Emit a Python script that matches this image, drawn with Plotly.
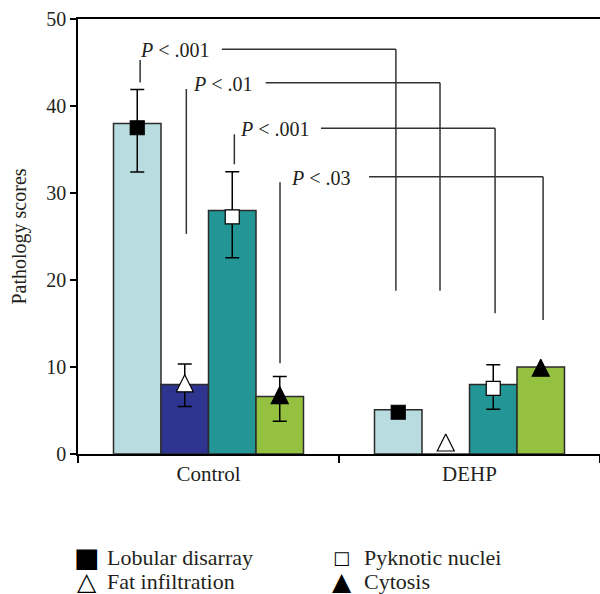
import plotly.graph_objects as go

# ---------------- data ----------------
groups = ["Control", "DEHP"]
group_pos = [0, 1]
series_names = ["Lobular disarray", "Fat infiltration", "Pyknotic nuclei", "Cytosis"]

lobular_bar = [38.0, 5.1]
fat_bar = [8.0, 0.0]
pyknotic_bar = [28.0, 8.0]
cytosis_bar = [6.6, 10.0]

lobular_mark = [37.5, 4.8]
fat_mark = [9.1, 2.3]
pyknotic_mark = [27.25, 7.55]
cytosis_mark = [7.75, 10.9]

lobular_err_plus = [4.4, None]
lobular_err_minus = [5.1, None]
fat_err_plus = [1.25, None]
fat_err_minus = [3.65, None]
pyknotic_err_plus = [5.2, 2.7]
pyknotic_err_minus = [4.7, 2.4]
cytosis_err_plus = [1.15, None]
cytosis_err_minus = [4.0, None]

p_labels = ["P < .001", "P < .01", "P < .001", "P < .03"]

# ---------------- style ----------------
FONT = "Liberation Serif"
TXT = "#231f20"
EDGE = "#2b2b2b"
BARGAP = 0.272
colors = ["#b8dce0", "#2e3591", "#229594", "#94c13f"]
symbols = ["square", "arrow-up", "square", "arrow-up"]
sym_fill = ["black", "white", "white", "black"]
sym_size = [14, 17, 14, 17]

bars = [lobular_bar, fat_bar, pyknotic_bar, cytosis_bar]
marks = [lobular_mark, fat_mark, pyknotic_mark, cytosis_mark]
eplus = [lobular_err_plus, fat_err_plus, pyknotic_err_plus, cytosis_err_plus]
eminus = [lobular_err_minus, fat_err_minus, pyknotic_err_minus, cytosis_err_minus]

fig = go.Figure()
for i, name in enumerate(series_names):
    fig.add_trace(go.Bar(
        x=group_pos, y=bars[i], name=name, showlegend=False,
        marker=dict(color=colors[i], line=dict(color=EDGE, width=1.5)),
        offsetgroup=str(i), hoverinfo="skip",
    ))
# error bars (only where a value exists)
for i, name in enumerate(series_names):
    y_err = [m if e is not None else None for m, e in zip(marks[i], eplus[i])]
    fig.add_trace(go.Scatter(
        x=group_pos, y=y_err, name=name + " SD", mode="markers", showlegend=False,
        offsetgroup=str(i), marker=dict(size=1, color="rgba(0,0,0,0)"),
        error_y=dict(type="data", symmetric=False,
                     array=[e if e is not None else 0 for e in eplus[i]],
                     arrayminus=[e if e is not None else 0 for e in eminus[i]],
                     color="black", thickness=1.5, width=7),
        hoverinfo="skip", cliponaxis=False,
    ))
# markers on top
for i, name in enumerate(series_names):
    fig.add_trace(go.Scatter(
        x=group_pos, y=marks[i], name=name, mode="markers", showlegend=False,
        offsetgroup=str(i),
        marker=dict(symbol=symbols[i], size=sym_size[i], color=sym_fill[i],
                    line=dict(color="black", width=1.2)),
        cliponaxis=False,
    ))

# significance brackets (decoration)
brackets = [
    # text_x, line_y, left_x, left_y0, left_y1, h_x0, right_x, right_y_bottom
    (-0.272, 46.52, -0.262, 42.7, 45.3, 0.051, 0.718, 18.77),
    (-0.068, 42.68, -0.085, 25.3, 41.95, 0.219, 0.887, 18.77),
    (0.112, 37.44, 0.099, 33.3, 36.75, 0.431, 1.098, 16.17),
    (0.308, 31.87, 0.274, 10.42, 31.23, 0.615, 1.282, 15.4),
]
line_style = dict(color="#333333", width=1.5)
for k, (tx, ly, lx, ly0, ly1, hx0, rx, ryb) in enumerate(brackets):
    fig.add_shape(type="line", xref="x", yref="y", x0=lx, x1=lx, y0=ly0, y1=ly1, line=line_style)
    fig.add_shape(type="line", xref="x", yref="y", x0=hx0, x1=rx, y0=ly, y1=ly, line=line_style)
    fig.add_shape(type="line", xref="x", yref="y", x0=rx, x1=rx, y0=ly, y1=ryb, line=line_style)
    fig.add_annotation(x=tx, y=ly, xref="x", yref="y", xanchor="left", yanchor="middle",
                       text=p_labels[k].replace("P", "<i>P</i>", 1),
                       showarrow=False, font=dict(family=FONT, size=20, color=TXT), yshift=-1)

# legend as text (symbols + labels)
legend_glyphs = ["\u25A0", "\u25B3", "\u25A1", "\u25B2"]
legend_cells = [(0, 0), (1, 0), (0, 1), (1, 1)]  # (row, col) for series order
col_sym_x = [0.0163, 0.505]
col_txt_x = [0.0517, 0.544]
row_y = [-0.237, -0.292]
glyph_sizes = [27, 25, 18, 25]
for i, name in enumerate(series_names):
    r, c = legend_cells[i]
    fig.add_annotation(x=col_sym_x[c], y=row_y[r], xref="paper", yref="paper",
                       xanchor="center", yanchor="middle", text=legend_glyphs[i],
                       showarrow=False, font=dict(family="DejaVu Sans", size=glyph_sizes[i], color="black"))
    fig.add_annotation(x=col_txt_x[c], y=row_y[r], xref="paper", yref="paper",
                       xanchor="left", yanchor="middle", text=name,
                       showarrow=False, font=dict(family=FONT, size=22, color=TXT))

fig.update_layout(
    width=600, height=594,
    margin=dict(l=78, r=0, t=19, b=140),
    paper_bgcolor="white", plot_bgcolor="white",
    barmode="group", bargap=BARGAP, bargroupgap=0,
    scattermode="group", scattergap=BARGAP,
    showlegend=False,
    font=dict(family=FONT, color=TXT),
)
fig.update_xaxes(
    range=[-0.5, 1.5], tickmode="array", tickvals=group_pos, ticktext=groups,
    ticks="", showgrid=False, zeroline=False, automargin=False,
    showline=True, linecolor="black", linewidth=1.5, mirror=True,
    tickfont=dict(family=FONT, size=21, color=TXT),
    minor=dict(tickmode="array", tickvals=[-0.5, 0.5, 1.5], ticks="outside",
               ticklen=7, tickwidth=1.5, tickcolor="black", showgrid=False),
)
fig.update_yaxes(
    range=[0, 50], tickmode="array", tickvals=[0, 10, 20, 30, 40, 50],
    ticks="outside", ticklen=6, tickwidth=1.5, tickcolor="black",
    showgrid=False, zeroline=False, automargin=False,
    showline=True, linecolor="black", linewidth=1.5,
    tickfont=dict(family=FONT, size=20, color=TXT),
    title=dict(text="Pathology scores", font=dict(family=FONT, size=20, color=TXT), standoff=14),
)

fig.write_html("out.html", config={"displayModeBar": False},
               post_script="document.body.style.margin='0px';")
